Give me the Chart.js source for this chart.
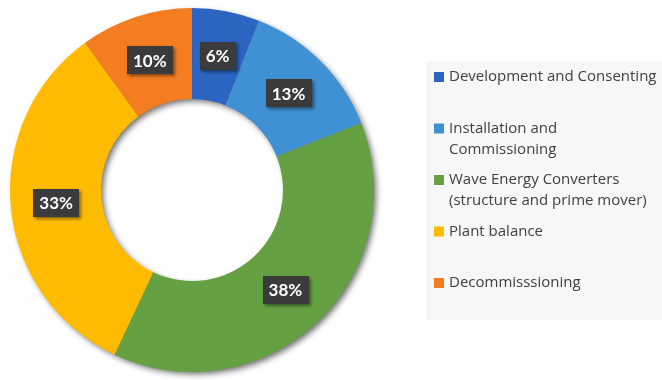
<!DOCTYPE html>
<html>
<head>
<meta charset="utf-8">
<script src="https://cdn.jsdelivr.net/npm/chart.js@4/dist/chart.umd.min.js"></script>
<style>
  html, body { margin: 0; padding: 0; background: #ffffff; }
  #wrap { position: relative; width: 662px; height: 380px; }
</style>
</head>
<body>
<div id="wrap"><canvas id="c" width="662" height="380"></canvas></div>
<script>
// Cost breakdown of a wave energy farm (share of total, %)
const categories = [
  ['Development and Consenting'],
  ['Installation and', 'Commissioning'],
  ['Wave Energy Converters', '(structure and prime mover)'],
  ['Plant balance'],
  ['Decommisssioning']
];
const shares = [6, 13, 38, 33, 10];
const colors = ['#2c64c1', '#3f91d3', '#65a043', '#ffbb00', '#f47c21'];

// Soft drop shadow under the ring, drawn before the slices
const ringShadow = {
  id: 'ringShadow',
  beforeDatasetsDraw(chart) {
    const arc = chart.getDatasetMeta(0).data[0];
    if (!arc) return;
    const { x, y, innerRadius, outerRadius } = arc.getProps(['x', 'y', 'innerRadius', 'outerRadius'], true);
    const ctx = chart.ctx;
    ctx.save();
    ctx.shadowColor = 'rgba(0,0,0,0.6)';
    ctx.shadowBlur = 6;
    ctx.shadowOffsetX = 3;
    ctx.shadowOffsetY = 3;
    ctx.fillStyle = '#888888';
    ctx.beginPath();
    ctx.arc(x, y, outerRadius - 1, 0, Math.PI * 2);
    ctx.arc(x, y, innerRadius + 1, 0, Math.PI * 2, true);
    ctx.fill();
    ctx.restore();
  }
};

// Dark boxed percentage labels at the middle of each slice
const sliceLabels = {
  id: 'sliceLabels',
  afterDatasetsDraw(chart) {
    const ctx = chart.ctx;
    const meta = chart.getDatasetMeta(0);
    ctx.save();
    ctx.font = 'bold 17px Lato, "Open Sans", sans-serif';
    ctx.textAlign = 'center';
    ctx.textBaseline = 'middle';
    meta.data.forEach((arc, i) => {
      const p = arc.tooltipPosition(true);
      const txt = shares[i] + '%';
      const w = ctx.measureText(txt).width + 12;
      const h = 28;
      ctx.save();
      ctx.shadowColor = 'rgba(0,0,0,0.45)';
      ctx.shadowBlur = 3;
      ctx.shadowOffsetX = 2;
      ctx.shadowOffsetY = 2;
      ctx.fillStyle = '#3b3b3b';
      ctx.fillRect(Math.round(p.x - w / 2), Math.round(p.y - h / 2), Math.round(w), h);
      ctx.restore();
      ctx.fillStyle = '#ffffff';
      ctx.fillText(txt, p.x, p.y + 1);
    });
    ctx.restore();
  }
};

// Legend panel on the right with fixed slots
const sideLegend = {
  id: 'sideLegend',
  afterDraw(chart) {
    const ctx = chart.ctx;
    ctx.save();
    ctx.fillStyle = '#f7f7f7';
    ctx.fillRect(426, 61, 236, 259);
    ctx.font = '15px "Open Sans", sans-serif';
    ctx.textAlign = 'left';
    ctx.textBaseline = 'middle';
    const slot = 51.5, top = 77, lineH = 21;
    categories.forEach((lines, i) => {
      const y = top + i * slot;
      ctx.fillStyle = colors[i];
      ctx.fillRect(434, y - 5, 10, 10);
      ctx.fillStyle = '#404040';
      lines.forEach((t, j) => ctx.fillText(t, 449, y + j * lineH));
    });
    ctx.restore();
  }
};

new Chart(document.getElementById('c'), {
  type: 'doughnut',
  data: {
    labels: categories.map(l => l.join(' ')),
    datasets: [{
      data: shares,
      backgroundColor: colors,
      borderWidth: 0
    }]
  },
  options: {
    responsive: false,
    animation: false,
    cutout: '50%',
    layout: { padding: { left: 10, top: 8, bottom: 8, right: 288 } },
    plugins: {
      legend: { display: false },
      tooltip: { enabled: false }
    }
  },
  plugins: [ringShadow, sliceLabels, sideLegend]
});
</script>
</body>
</html>
